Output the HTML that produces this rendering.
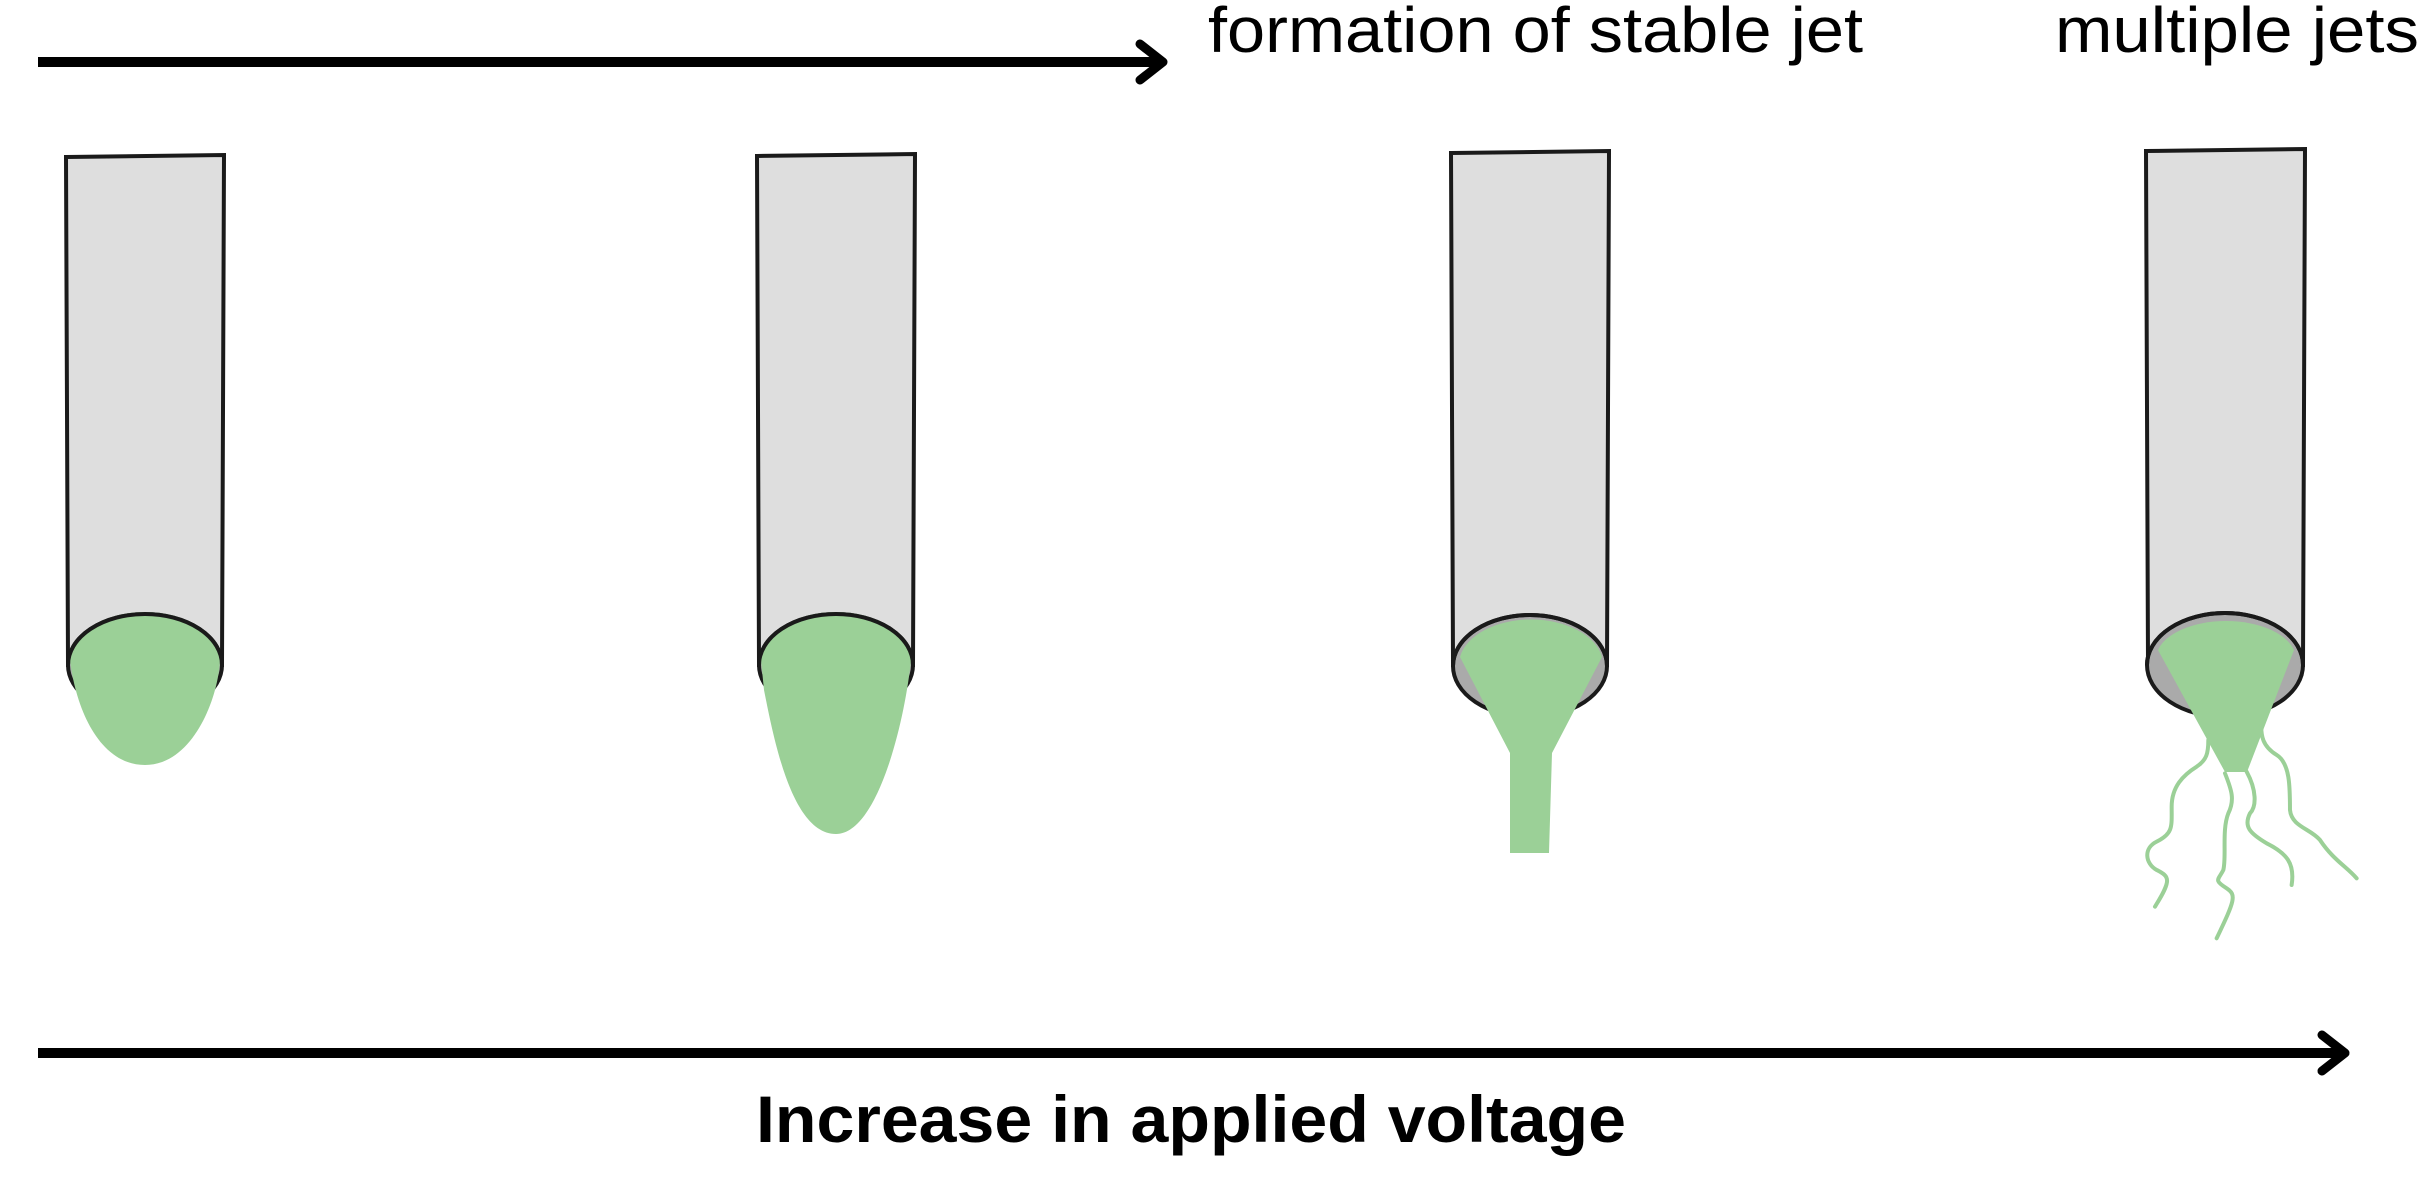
<!DOCTYPE html>
<html><head><meta charset="utf-8"><style>
html,body{margin:0;padding:0;background:#fff;}
svg{display:block;}
</style></head><body>
<svg width="2433" height="1185" viewBox="0 0 2433 1185" xmlns="http://www.w3.org/2000/svg">
<!-- top arrow -->
<line x1="38" y1="62" x2="1160" y2="62" stroke="#000" stroke-width="10"/>
<polyline points="1140,44 1163,62 1140,80" fill="none" stroke="#000" stroke-width="9" stroke-linecap="round" stroke-linejoin="round"/>
<text x="1208" y="52" font-family="Liberation Sans, sans-serif" font-size="64" textLength="655" lengthAdjust="spacingAndGlyphs" fill="#000">formation of stable jet</text>
<text x="2055" y="52" font-family="Liberation Sans, sans-serif" font-size="64" textLength="364" lengthAdjust="spacingAndGlyphs" fill="#000">multiple jets</text>

<g stroke="#1a1a1a" stroke-width="4">
<path d="M66,157 L224,155 L222,665 L68,665 Z" fill="#dedede"/>
<ellipse cx="145" cy="665" rx="77" ry="51" fill="#aaa"/>
<path d="M757,156 L915,154 L913,665 L759,665 Z" fill="#dedede"/>
<ellipse cx="836" cy="665" rx="77" ry="51" fill="#aaa"/>
<path d="M1451,153 L1609,151 L1607,665 L1453,665 Z" fill="#dedede"/>
<ellipse cx="1530" cy="666" rx="77" ry="51" fill="#aaa"/>
<path d="M2146,151 L2305,149 L2303,665 L2148,665 Z" fill="#dedede"/>
<ellipse cx="2225" cy="665" rx="78" ry="52" fill="#aaa"/>
</g>

<g fill="#9bd097">
<path d="M70,660 A75,48 0 0 1 220,660 C218,700 192,765 145,765 C100,765 76,710 70,660 Z"/>
<path d="M761,660 A75,48 0 0 1 911,660 C905,720 878,834 836,834 C792,834 774,740 764,690 Z"/>
<path d="M1460,657 A72,45 0 0 1 1602,657 L1552,753 L1549,853 L1510,853 L1510,753 Z"/>
<path d="M2158,650 A70,38 0 0 1 2294,650 L2247,772 L2225,772 Z"/>
</g>
<g fill="none" stroke="#1a1a1a" stroke-width="4">
<path d="M68,665 A77,51 0 0 1 222,665"/>
<path d="M759,665 A77,51 0 0 1 913,665"/>
<path d="M1453,666 A77,51 0 0 1 1607,666"/>
<path d="M2147,665 A78,52 0 0 1 2303,665"/>
</g>

<g transform="translate(2100,580) scale(0.3333)" fill="none" stroke="#9bd097" stroke-width="12" stroke-linecap="round" stroke-linejoin="round">
<path d="M325,480 C325,520 320,540 290,560 C250,585 215,620 215,680 C215,740 220,760 170,785 C130,805 135,850 170,870 C210,890 215,900 165,980"/>
<path d="M375,580 C395,630 405,660 385,700 C365,750 380,830 370,870 C355,900 340,900 380,925 C410,945 405,960 350,1075"/>
<path d="M440,575 C470,630 470,680 450,700 C430,740 450,760 500,790 C560,820 585,850 575,915"/>
<path d="M485,420 C480,470 490,500 530,525 C570,550 570,620 570,690 C575,740 630,745 660,780 C700,840 740,860 770,895"/>
</g>

<line x1="38" y1="1053" x2="2340" y2="1053" stroke="#000" stroke-width="10"/>
<polyline points="2322,1035 2345,1053 2322,1071" fill="none" stroke="#000" stroke-width="9" stroke-linecap="round" stroke-linejoin="round"/>
<text x="756" y="1142" font-family="Liberation Sans, sans-serif" font-weight="bold" font-size="66" textLength="870" lengthAdjust="spacingAndGlyphs" fill="#000">Increase in applied voltage</text>
</svg>
</body></html>
